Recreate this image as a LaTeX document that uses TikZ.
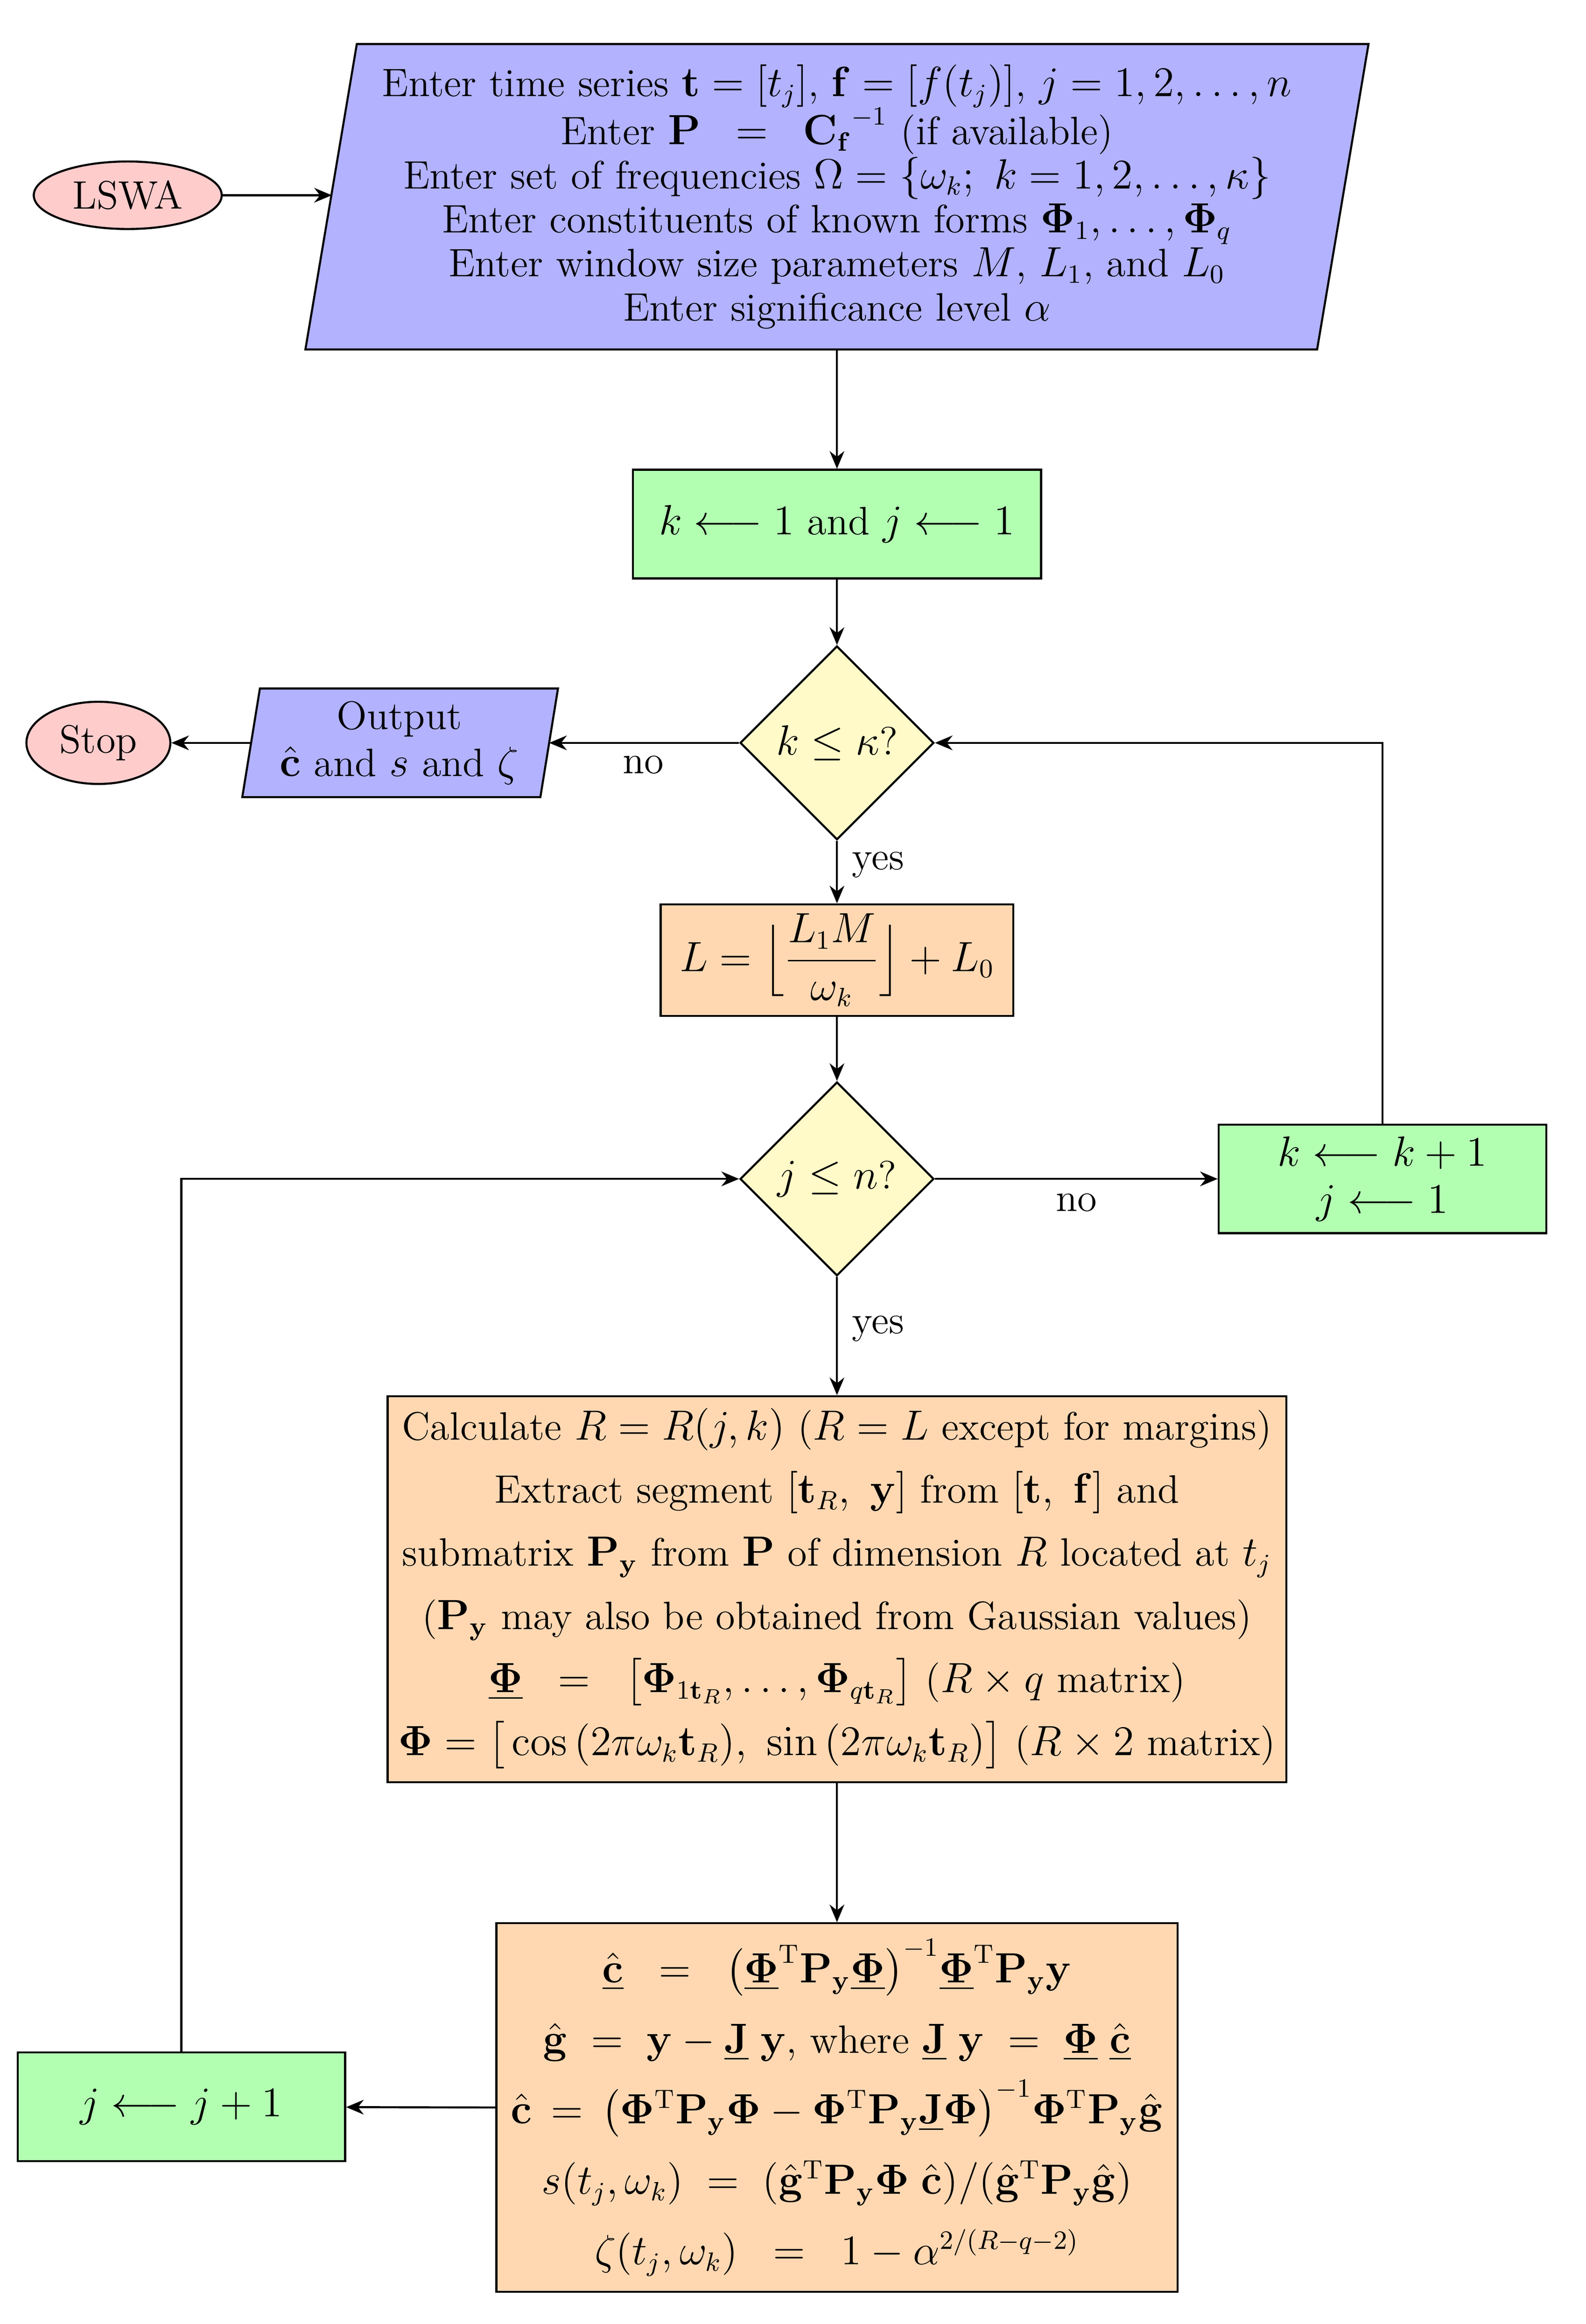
\documentclass[tikz,border=0pt]{standalone}
\usepackage{amsmath,amssymb,bm}
\usetikzlibrary{shapes.geometric,arrows.meta}
\newcommand\bPhi{\bm{\Phi}}
\newcommand\uPhi{\underline{\bm{\Phi}}}
\newcommand\Py{\mathbf P_{\mathbf y}}
\definecolor{cblue}{RGB}{178,178,255}
\definecolor{cgreen}{RGB}{178,255,178}
\definecolor{cyellow}{RGB}{255,250,200}
\definecolor{corange}{RGB}{255,216,178}
\definecolor{cpink}{RGB}{255,204,204}
\begin{document}
\begin{tikzpicture}[x=0.5pt,y=-0.5pt,line width=0.7pt,
  font=\fontsize{13.5}{16}\selectfont,
  box/.style={draw,rectangle,inner sep=0pt,align=center},
  dia/.style={draw,fill=cyellow,diamond,aspect=1,minimum width=66pt,minimum height=66pt,inner sep=0pt},
  ell/.style={draw,fill=cpink,ellipse,inner sep=0pt},
  arr/.style={-{Stealth[length=6pt,width=5pt]}}]
\useasboundingbox (0,0) rectangle (1080,1583);
% input parallelogram
\filldraw[fill=cblue] (243,30) -- (932,30) -- (897,238) -- (208,238) -- cycle;
\coordinate (inL) at (226,133);
\node[align=center] (in) at (570,134) {Enter time series $\mathbf t=[t_j]$, $\mathbf f=[f(t_j)]$, $j=1,2,\dots,n$\\[-1pt]
Enter $\mathbf P\;\;=\;\;{\mathbf C_{\mathbf f}}^{-1}$ (if available)\\[-1pt]
Enter set of frequencies $\Omega=\{\omega_k;\ k=1,2,\dots,\kappa\}$\\[-1pt]
Enter constituents of known forms $\bPhi_1,\dots,\bPhi_q$\\[-1pt]
Enter window size parameters $M$, $L_1$, and $L_0$\\[-1pt]
Enter significance level $\alpha$};
\node[ell,minimum width=64pt,minimum height=23pt] (lswa) at (87,133) {LSWA};
\draw[arr] (lswa) -- (inL);
% init
\node[box,fill=cgreen,minimum width=139pt,minimum height=37pt] (init) at (570,357) {$k\longleftarrow 1$ and $j\longleftarrow 1$};
\coordinate (inB) at (570,238);
\draw[arr] (inB) -- (init);
\node[dia] (d1) at (570,506) {$k\le\kappa$?};
\draw[arr] (init) -- (d1);
% output
\filldraw[fill=cblue] (177,469) -- (380,469) -- (368,543) -- (165,543) -- cycle;
\coordinate (outR) at (374,506);
\coordinate (outL) at (171,506);
\node[align=center] (out) at (272,506) {Output\\$\hat{\mathbf c}$ and $s$ and $\zeta$};
\node[ell,minimum width=49pt,minimum height=28pt] (stop) at (67,506) {Stop};
\draw[arr] (d1) -- (outR);
\draw[arr] (outL) -- (stop);
\node (no1) at (438,521) {no};
% L box
\node[box,fill=corange,minimum width=120pt,minimum height=38pt] (Lb) at (570,654) {$L=\Big\lfloor\dfrac{L_1M}{\omega_k}\Big\rfloor+L_0$};
\draw[arr] (d1) -- (Lb);
\node (yes1) at (598,589) {yes};
\node[dia] (d2) at (570,803) {$j\le n$?};
\draw[arr] (Lb) -- (d2);
% k box
\node[box,fill=cgreen,minimum width=111.5pt,minimum height=37pt] (kb) at (941.5,803) {$k\longleftarrow k+1$\\$j\longleftarrow 1$};
\draw[arr] (d2) -- (kb);
\node (no2) at (733,819) {no};
\draw[arr] (kb.north) |- (d1.east);
\node (yes2) at (598,905) {yes};
% big box
\node[box,fill=corange,minimum width=306pt,minimum height=131.5pt,font=\fontsize{13.5}{21.5}\selectfont] (calc) at (570,1082.5) {%
Calculate $R=R(j,k)$ ($R=L$ except for margins)\\
Extract segment $[\mathbf t_R,\ \mathbf y]$ from $[\mathbf t,\ \mathbf f]$ and\\
submatrix $\Py$ from $\mathbf P$ of dimension $R$ located at $t_j$\\
($\Py$ may also be obtained from Gaussian values)\\
$\uPhi\;\;=\;\;\big[\bPhi_{1\mathbf t_R},\dots,\bPhi_{q\mathbf t_R}\big]$ ($R\times q$ matrix)\\
$\bPhi=\big[\cos\,(2\pi\omega_k\mathbf t_R),\ \sin\,(2\pi\omega_k\mathbf t_R)\big]$ ($R\times 2$ matrix)};
\draw[arr] (d2) -- (calc);
% bottom box
\node[box,fill=corange,minimum width=232pt,minimum height=125.5pt,font=\fontsize{13.5}{24}\selectfont] (est) at (570,1435.5) {%
$\underline{\hat{\mathbf c}}\;\;=\;\;\big(\uPhi^{\mathrm T}\Py\uPhi\big)^{-1}\uPhi^{\mathrm T}\Py\mathbf y$\\
$\hat{\mathbf g}\;=\;\mathbf y-\underline{\mathbf J}\;\mathbf y$, where $\underline{\mathbf J}\;\mathbf y\;=\;\uPhi\;\underline{\hat{\mathbf c}}$\\
$\hat{\mathbf c}\,=\,\big(\bPhi^{\mathrm T}\Py\bPhi-\bPhi^{\mathrm T}\Py\underline{\mathbf J}\bPhi\big)^{-1}\bPhi^{\mathrm T}\Py\hat{\mathbf g}$\\
$s(t_j,\omega_k)\;=\;(\hat{\mathbf g}^{\mathrm T}\Py\bPhi\;\hat{\mathbf c})/(\hat{\mathbf g}^{\mathrm T}\Py\hat{\mathbf g})$\\
$\zeta(t_j,\omega_k)\;\;=\;\;1-\alpha^{2/(R-q-2)}$};
\draw[arr] (calc) -- (est);
% j box
\node[box,fill=cgreen,minimum width=111.5pt,minimum height=37pt] (jb) at (123.5,1435) {$j\longleftarrow j+1$};
\draw[arr] (est.west) -- (jb);
\draw[arr] (jb.north) |- (d2.west);
\end{tikzpicture}
\end{document}
